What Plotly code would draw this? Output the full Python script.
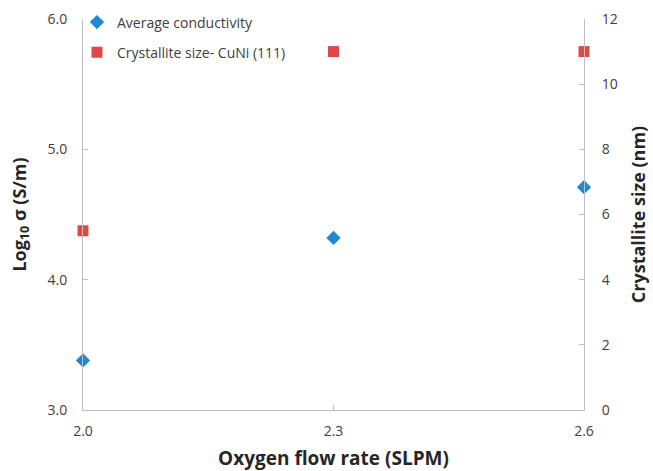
import plotly.graph_objects as go

flow_rate = [2.0, 2.3, 2.6]
log_conductivity = [3.38, 4.32, 4.71]
crystallite_size = [5.5, 11.0, 11.0]
x_ticks = [2.0, 2.3, 2.6]
y_left_ticks = [3.0, 4.0, 5.0, 6.0]
y_right_ticks = [0, 2, 4, 6, 8, 10, 12]

FONT = "Open Sans"
AXIS_COLOR = "#BFBFBF"
TXT = "#404040"

fig = go.Figure()
fig.add_trace(go.Scatter(
    x=flow_rate, y=log_conductivity, mode="markers", name="Average conductivity",
    legendgroup="a",
    marker=dict(symbol="diamond", size=11, color="#1E88D2"),
    cliponaxis=False, yaxis="y"))
fig.add_trace(go.Scatter(
    x=flow_rate, y=crystallite_size, mode="markers", name="Crystallite size- CuNi (111)",
    legendgroup="b",
    marker=dict(symbol="square", size=11, color="#E04848"),
    cliponaxis=False, yaxis="y2"))

fig.update_layout(
    width=653, height=471,
    margin=dict(l=83, r=69, t=19, b=61, autoexpand=False),
    paper_bgcolor="white", plot_bgcolor="white",
    font=dict(family=FONT, size=14, color=TXT),
    showlegend=True,
    legend=dict(x=-0.012, y=1.032, xanchor="left", yanchor="top",
                bgcolor="rgba(0,0,0,0)", font=dict(size=14, color=TXT),
                itemwidth=30, tracegroupgap=9),
    xaxis=dict(range=[2.0, 2.6], tickvals=x_ticks, ticktext=[f"{v:.1f}" for v in x_ticks],
               showgrid=False, zeroline=False, showline=True, linecolor=AXIS_COLOR, linewidth=1,
               ticks="inside", ticklen=5, tickcolor=AXIS_COLOR, ticklabelstandoff=8,
               automargin=False,
               title=dict(text="<b>Oxygen flow rate (SLPM)</b>", font=dict(size=19, color="#262626"), standoff=14)),
    yaxis=dict(range=[3.0, 6.0], tickvals=y_left_ticks, ticktext=[f"{v:.1f}" for v in y_left_ticks],
               showgrid=False, zeroline=False, showline=True, linecolor=AXIS_COLOR, linewidth=1,
               ticks="inside", ticklen=5, tickcolor=AXIS_COLOR, ticklabelstandoff=12,
               automargin=False,
               title=dict(text="<b>Log<sub>10</sub> σ (S/m)</b>", font=dict(size=18, color="#262626"), standoff=16)),
    yaxis2=dict(range=[0, 12], tickvals=y_right_ticks, overlaying="y", side="right",
                showgrid=False, zeroline=False, showline=True, linecolor=AXIS_COLOR, linewidth=1,
                ticks="inside", ticklen=5, tickcolor=AXIS_COLOR, ticklabelstandoff=14,
                automargin=False,
                title=dict(text="<b>Crystallite size (nm)</b>", font=dict(size=18, color="#262626"), standoff=15)),
)

fig.write_html("out.html")
